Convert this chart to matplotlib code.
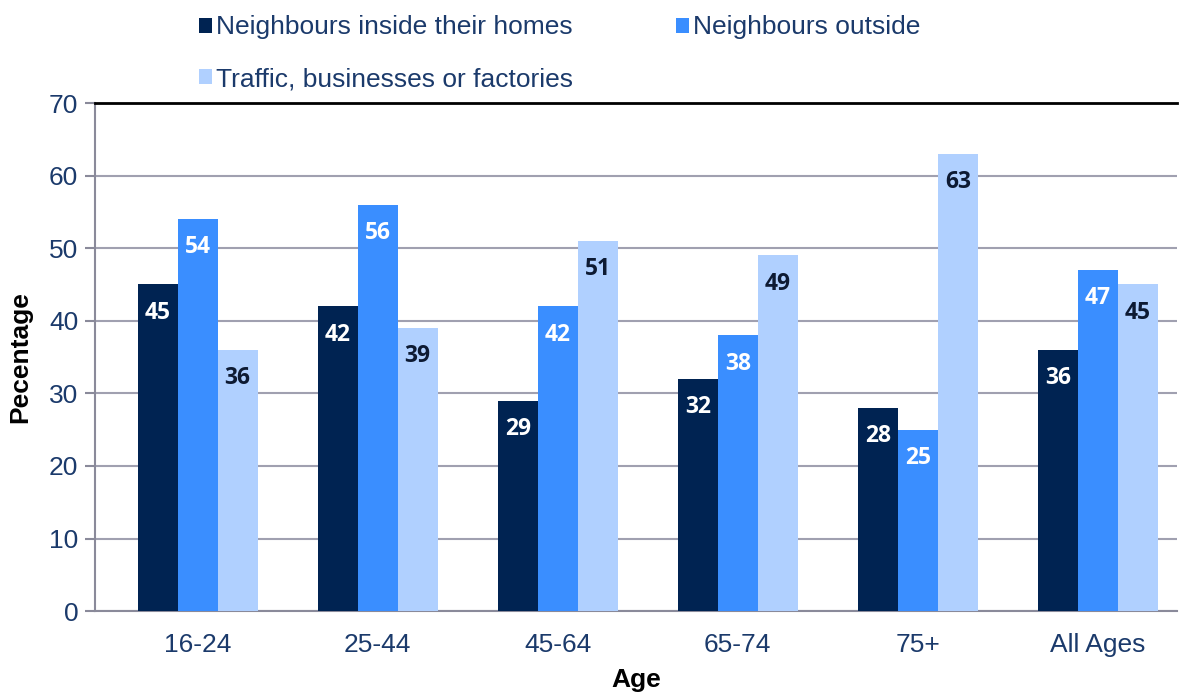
import numpy as np
import matplotlib.pyplot as plt

# data
ages = ['16-24', '25-44', '45-64', '65-74', '75+', 'All Ages']
inside_homes = [45, 42, 29, 32, 28, 36]
outside = [54, 56, 42, 38, 25, 47]
traffic = [36, 39, 51, 49, 63, 45]
series_names = ['Neighbours inside their homes', 'Neighbours outside',
                'Traffic, businesses or factories']

colors = ['#002352', '#3A8EFF', '#B0D0FF']
label_colors = ['white', 'white', '#0D1A33']
navy = '#1B3A6B'

plt.rcParams['font.family'] = ['Liberation Sans', 'DejaVu Sans']

fig = plt.figure(figsize=(11.83, 6.96), dpi=100)
ax = fig.add_axes([0.0803, 0.122, 0.9147, 0.730])

x = np.arange(len(ages))
w = 0.222
handles = []
for k, (vals, name) in enumerate(zip([inside_homes, outside, traffic], series_names)):
    pos = x + (k - 1) * w
    h = ax.bar(pos, vals, width=w, color=colors[k], label=name, zorder=3)
    handles.append(h)
    for p, v in zip(pos, vals):
        ax.text(p, v - 3.9, str(v), ha='center', va='center', color=label_colors[k],
                fontsize=16.5, fontweight='bold', family=['Open Sans', 'DejaVu Sans'], zorder=4)

ax.set_xlim(-0.57, 5.44)
ax.set_ylim(0, 70)
ax.set_yticks(range(0, 71, 10))
ax.set_xticks(x)
ax.set_xticklabels(ages)
ax.yaxis.grid(True, color='#A0A0B0', linewidth=1.5, zorder=0)
ax.tick_params(axis='y', length=7, width=1.5, color='#8A8A9A', labelsize=19, labelcolor=navy, pad=5)
ax.tick_params(axis='x', length=0, labelsize=19, labelcolor=navy, pad=16)

ax.spines['right'].set_visible(False)
ax.spines['top'].set_color('black')
ax.spines['top'].set_linewidth(2)
for s in ['left', 'bottom']:
    ax.spines[s].set_color('#8A8A9A')
    ax.spines[s].set_linewidth(1.5)

ax.set_xlabel('Age', fontsize=19, fontweight='bold', labelpad=8)
ax.set_ylabel('Pecentage', fontsize=19, fontweight='bold', labelpad=12)

# row-wise order: inside, outside / traffic
order = [0, 2, 1]
leg = ax.legend([handles[i] for i in order], [series_names[i] for i in order],
                loc='lower left', bbox_to_anchor=(0.085, 1.0), ncol=2, frameon=False,
                fontsize=19, handlelength=0.5, handleheight=0.5, handletextpad=0.15,
                columnspacing=3.9, labelspacing=1.05, borderaxespad=0.05)
for t in leg.get_texts():
    t.set_color(navy)

fig.savefig('out.png', dpi=100)
